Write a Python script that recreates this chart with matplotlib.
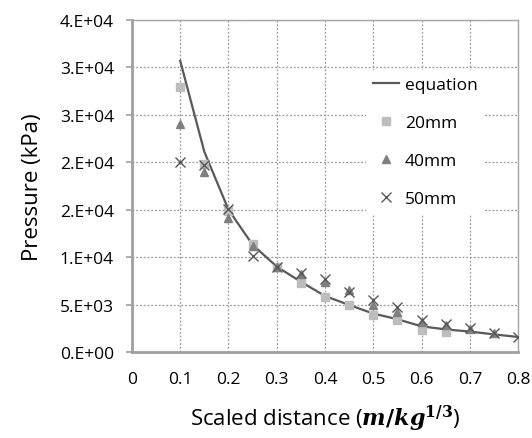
import matplotlib
matplotlib.use("Agg")
import matplotlib.pyplot as plt

# scaled distance (m/kg^1/3)
z_eq = [0.1, 0.15, 0.2, 0.25, 0.3, 0.35, 0.4, 0.45, 0.5, 0.55, 0.6, 0.65, 0.7, 0.75, 0.8]
p_eq = [30700, 21100, 15000, 11300, 9000, 7400, 5900, 4950, 4050, 3450, 2700, 2380, 2150, 1850, 1580]

z_20 = [0.1, 0.15, 0.2, 0.25, 0.3, 0.35, 0.4, 0.45, 0.5, 0.55, 0.6, 0.65]
p_20 = [27900, 19800, 14900, 11400, 8950, 7300, 5800, 4920, 3950, 3420, 2280, 2110]

z_40 = [0.1, 0.15, 0.2, 0.25, 0.3, 0.35, 0.4, 0.45, 0.5, 0.55, 0.6, 0.65, 0.7, 0.75]
p_40 = [24000, 19000, 14100, 11200, 9000, 8250, 7400, 6500, 5000, 4200, 3170, 2830, 2370, 1950]

z_50 = [0.1, 0.15, 0.2, 0.25, 0.3, 0.35, 0.4, 0.45, 0.5, 0.55, 0.6, 0.65, 0.7, 0.75, 0.8]
p_50 = [20000, 19700, 15070, 10150, 9000, 8300, 7730, 6320, 5440, 4750, 3330, 2900, 2480, 2040, 1600]

xticks = [0, 0.1, 0.2, 0.3, 0.4, 0.5, 0.6, 0.7, 0.8]
xtick_labels = ['0', '0.1', '0.2', '0.3', '0.4', '0.5', '0.6', '0.7', '0.8']
yticks = [0, 5000, 10000, 15000, 20000, 25000, 30000, 35000]
ytick_labels = ['0.E+00', '5.E+03', '1.E+04', '2.E+04', '2.E+04', '3.E+04', '3.E+04', '4.E+04']

plt.rcParams['font.family'] = ['Open Sans', 'DejaVu Sans']
plt.rcParams['mathtext.fontset'] = 'dejavuserif'

fig = plt.figure(figsize=(5.32, 4.39), dpi=100)
ax = fig.add_axes([0.248, 0.196, 0.726, 0.756])

ax.plot(z_eq, p_eq, '-', color='#595959', lw=1.6, label='equation', zorder=3)
ax.plot(z_20, p_20, 's', color='#bdbdbd', ms=6, label='20mm', zorder=4)
ax.plot(z_40, p_40, '^', color='#7f7f7f', ms=6, label='40mm', zorder=5)
ax.plot(z_50, p_50, 'x', color='#595959', ms=7, mew=1.0, label='50mm', zorder=6)

ax.set_xlim(0, 0.8)
ax.set_ylim(0, 35000)
ax.set_xticks(xticks)
ax.set_xticklabels(xtick_labels)
ax.set_yticks(yticks)
ax.set_yticklabels(ytick_labels)
ax.tick_params(axis='x', length=0, labelsize=12.5, pad=14)
ax.tick_params(axis='y', length=4, width=1.2, color='#a0a0a0', labelsize=12.5, pad=9)

ax.grid(True, linestyle=(0, (1.5, 1.5)), color='#9a9a9a', lw=0.9)
ax.set_axisbelow(True)

for side in ['top', 'right']:
    ax.spines[side].set_color('#a6a6a6')
    ax.spines[side].set_linewidth(1.0)
for side in ['left', 'bottom']:
    ax.spines[side].set_color('#a0a0a0')
    ax.spines[side].set_linewidth(2.0)

ax.set_ylabel('Pressure (kPa)', fontsize=16, labelpad=12)
ax.set_xlabel(r'Scaled distance ($\boldsymbol{m/kg}^{\mathbf{1/3}}$)', fontsize=16, labelpad=11)

leg = ax.legend(loc='upper right', bbox_to_anchor=(0.935, 0.875), frameon=True,
                fontsize=12.5, labelspacing=1.25, handlelength=1.5, handletextpad=0.3,
                borderpad=0.4, framealpha=1.0)
leg.get_frame().set_edgecolor('white')
leg.get_frame().set_linewidth(0)

fig.savefig('out.png', dpi=100)
